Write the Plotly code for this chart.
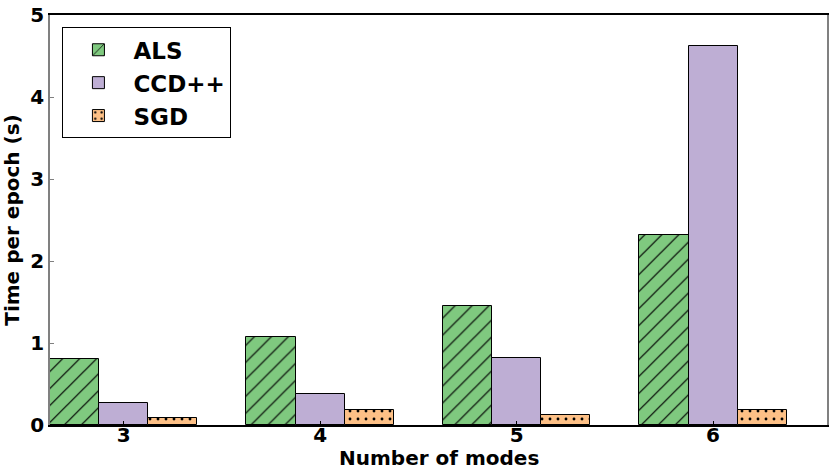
import plotly.graph_objects as go

modes = [3, 4, 5, 6]
als = [0.81, 1.07, 1.45, 2.32]
ccd = [0.27, 0.38, 0.82, 4.62]
sgd = [0.08, 0.18, 0.12, 0.18]

series = [
    ("ALS", als, "#7fc97f", "/", 12, 0.1, -0.25),
    ("CCD++", ccd, "#beaed4", "", 8, 0.1, 0.0),
    ("SGD", sgd, "#fdc086", ".", 8, 0.1, 0.25),
]

fig = go.Figure()
for name, vals, color, shape, psize, sol, off in series:
    fig.add_trace(go.Bar(
        name=name,
        x=[m + off for m in modes],
        y=vals,
        width=0.25,
        marker=dict(
            color=color,
            line=dict(color="black", width=1),
            pattern=dict(shape=shape, fgcolor="black", bgcolor=color,
                         size=psize, solidity=sol, fillmode="replace"),
        ),
    ))

font_family = "DejaVu Sans"
fig.update_layout(
    width=830, height=470,
    margin=dict(l=50, r=1, t=15, b=45),
    plot_bgcolor="white", paper_bgcolor="white",
    barmode="overlay",
    bargap=0,
    font=dict(family=font_family, size=20, color="black"),
    showlegend=True,
    legend=dict(
        x=0.016, y=0.97, xanchor="left", yanchor="top",
        bordercolor="black", borderwidth=1,
        font=dict(family=font_family, size=23, color="black", weight="bold"),
        bgcolor="white",
        itemwidth=60,
        tracegroupgap=6,
    ),
    xaxis=dict(
        range=[2.625, 6.58],
        tickvals=modes,
        ticktext=[str(m) for m in modes],
        tickfont=dict(size=20, weight="bold"),
        ticklabelstandoff=-9,
        showline=True, linecolor="black", linewidth=1.5, mirror=True,
        ticks="inside", ticklen=4, tickcolor="black",
        showgrid=False, zeroline=False,
    ),
    yaxis=dict(
        range=[0, 5],
        tickvals=[0, 1, 2, 3, 4, 5],
        tickfont=dict(size=20, weight="bold"),
        title=dict(text="Time per epoch (s)", font=dict(size=20, weight="bold"), standoff=6),
        showline=True, linecolor="#808080", linewidth=1.5, mirror=True,
        ticks="inside", ticklen=4, tickcolor="#808080",
        showgrid=False, zeroline=False,
    ),
    annotations=[dict(
        text="Number of modes",
        xref="paper", yref="paper", x=0.5, y=0,
        xanchor="center", yanchor="bottom", yshift=-46,
        showarrow=False, borderpad=0,
        font=dict(family=font_family, size=20, weight="bold", color="black"),
    )],
)

fig.write_html("out.html")
